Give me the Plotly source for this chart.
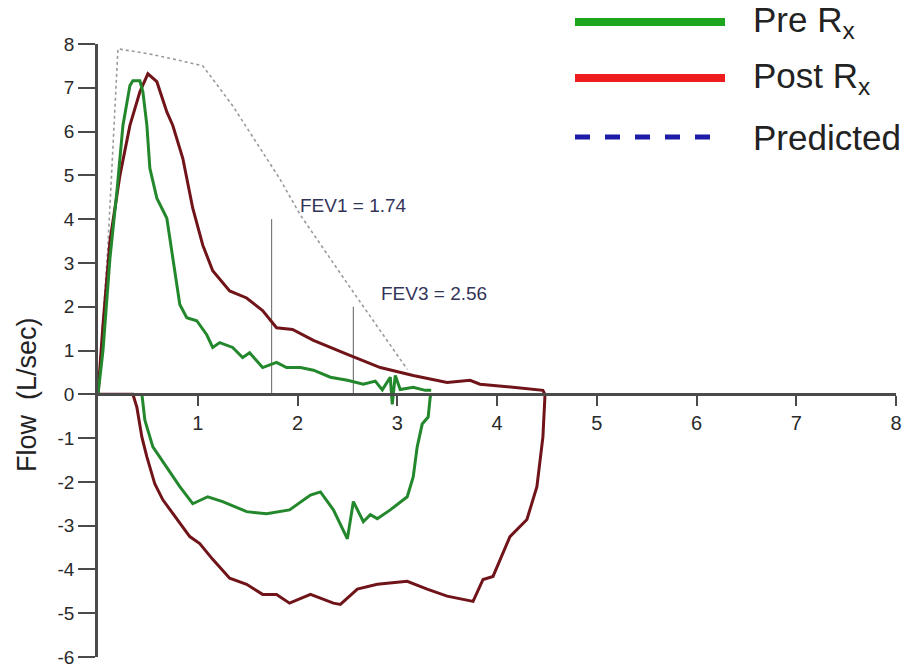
import plotly.graph_objects as go

# ---------------- data ----------------
post_exp_vol = [0, 0.05, 0.12, 0.22, 0.32, 0.42, 0.50, 0.59, 0.69, 0.75, 0.85, 0.95, 1.05, 1.15,
                1.32, 1.49, 1.65, 1.79, 1.95, 2.16, 2.50, 2.66, 2.83, 3.16, 3.50, 3.73, 3.83,
                4.16, 4.46, 4.48]
post_exp_flow = [0, 1.59, 3.5, 5.0, 6.14, 6.91, 7.32, 7.14, 6.45, 6.14, 5.39, 4.25, 3.41, 2.82,
                 2.36, 2.2, 1.91, 1.52, 1.48, 1.23, 0.91, 0.77, 0.61, 0.43, 0.27, 0.32, 0.23,
                 0.16, 0.09, 0]

post_insp_vol = [0, 0.35, 0.39, 0.44, 0.49, 0.57, 0.65, 0.79, 0.92, 1.02, 1.15, 1.32, 1.49, 1.65,
                 1.79, 1.92, 2.13, 2.36, 2.43, 2.60, 2.80, 3.10, 3.30, 3.50, 3.76, 3.86, 3.96,
                 4.13, 4.30, 4.40, 4.46, 4.48, 4.48]
post_insp_flow = [0, 0, -0.30, -0.98, -1.43, -2.05, -2.41, -2.86, -3.25, -3.41, -3.77, -4.2, -4.34,
                  -4.57, -4.57, -4.77, -4.57, -4.77, -4.8, -4.45, -4.34, -4.27, -4.45, -4.61, -4.73,
                  -4.23, -4.16, -3.25, -2.86, -2.11, -0.98, -0.07, 0]

pre_exp_vol = [0, 0.05, 0.12, 0.19, 0.25, 0.32, 0.35, 0.42, 0.45, 0.49, 0.52, 0.59, 0.69, 0.75,
               0.82, 0.89, 0.99, 1.09, 1.15, 1.22, 1.35, 1.45, 1.52, 1.65, 1.79, 1.89, 2.03,
               2.16, 2.33, 2.50, 2.66, 2.78, 2.85, 2.93, 2.95, 2.98, 3.03, 3.16, 3.28, 3.34]
pre_exp_flow = [0, 1.0, 3.11, 4.64, 6.14, 7.05, 7.16, 7.16, 6.91, 6.14, 5.16, 4.48, 4.02, 3.11,
                2.05, 1.75, 1.68, 1.36, 1.07, 1.18, 1.07, 0.84, 0.95, 0.61, 0.73, 0.61, 0.61,
                0.55, 0.39, 0.32, 0.23, 0.3, 0.1, 0.39, -0.23, 0.43, 0.11, 0.16, 0.09, 0.09]

pre_insp_vol = [0.44, 0.47, 0.55, 0.69, 0.82, 0.95, 1.10, 1.25, 1.49, 1.69, 1.92, 2.13, 2.23,
                2.36, 2.50, 2.56, 2.66, 2.73, 2.80, 2.93, 3.10, 3.16, 3.20, 3.25, 3.31, 3.33, 3.34]
pre_insp_flow = [0, -0.59, -1.2, -1.66, -2.11, -2.5, -2.34, -2.45, -2.68, -2.73, -2.64, -2.3, -2.23,
                 -2.64, -3.3, -2.45, -2.91, -2.75, -2.84, -2.64, -2.34, -1.89, -1.2, -0.68, -0.52,
                 -0.07, 0]

pred_vol = [0, 0.10, 0.20, 0.52, 0.75, 1.05, 1.15, 1.35, 1.82, 2.03, 2.53, 3.06, 3.10]
pred_flow = [0, 3.41, 7.89, 7.77, 7.66, 7.5, 7.2, 6.59, 4.93, 4.09, 2.43, 0.68, 0.57]

fev_vol = [1.74, 2.56]
fev_flow = [4.0, 2.0]
fev_text = ["FEV1 = 1.74", "FEV3 = 2.56"]
fev_text_pos = [(2.0, 4.32), (2.82, 2.3)]

x_ticks = [1, 2, 3, 4, 5, 6, 7, 8]
y_ticks = [-6, -5, -4, -3, -2, -1, 0, 1, 2, 3, 4, 5, 6, 7, 8]

legend_names = ["Pre R<sub>x</sub>", "Post R<sub>x</sub>", "Predicted"]

# ---------------- styles ----------------
PRE_C = "#23882c"
POST_C = "#701419"
PRED_C = "#9a9a9a"
AX_C = "#4a4a4a"
FONT = "Liberation Sans, Arial, sans-serif"

Y_MIN, Y_MAX = -6.0, 8.0
X_MIN, X_MAX = 0, 8.0
M_L, M_R, M_T, M_B = 98, 14, 44, 11

fig = go.Figure()

fig.add_trace(go.Scatter(x=pred_vol, y=pred_flow, mode="lines",
                         line=dict(color=PRED_C, width=1.6, dash="dot"), showlegend=False))
for xv, yv in zip(fev_vol, fev_flow):
    fig.add_trace(go.Scatter(x=[xv, xv], y=[0, yv], mode="lines",
                             line=dict(color="#7a7a7a", width=1.2), showlegend=False))
fig.add_trace(go.Scatter(x=post_exp_vol, y=post_exp_flow, mode="lines",
                         line=dict(color=POST_C, width=3), showlegend=False))
fig.add_trace(go.Scatter(x=post_insp_vol, y=post_insp_flow, mode="lines",
                         line=dict(color=POST_C, width=3), showlegend=False))
fig.add_trace(go.Scatter(x=pre_exp_vol, y=pre_exp_flow, mode="lines",
                         line=dict(color=PRE_C, width=3), showlegend=False))
fig.add_trace(go.Scatter(x=pre_insp_vol, y=pre_insp_flow, mode="lines",
                         line=dict(color=PRE_C, width=3), showlegend=False))

annotations = []
for txt, (tx, ty) in zip(fev_text, fev_text_pos):
    annotations.append(dict(x=tx, y=ty, xref="x", yref="y", text=txt, showarrow=False,
                            xanchor="left", yanchor="middle",
                            font=dict(family=FONT, size=19, color="#34345a")))

# plot-area pixel geometry
W = 910 - M_L - M_R
H = 668 - M_T - M_B
B = 668 - M_B
def px(xp):
    return (xp - M_L) / W
def py(yp):
    return (B - yp) / H

# y-axis title
annotations.append(dict(x=px(27), y=py(395), xref="paper", yref="paper",
                        text="Flow  (L/sec)", textangle=-90, showarrow=False,
                        xanchor="center", yanchor="middle",
                        font=dict(family=FONT, size=27, color="#222222")))

# manual legend
leg_y = [22, 78, 137]
leg_cols = ["#1da51d", "#ee1c1c", "#1c1ca8"]
leg_dash = ["solid", "solid", "dash"]
leg_w = [8, 8, 5]
shapes = []
for yy, c, d, w, name in zip(leg_y, leg_cols, leg_dash, leg_w, legend_names):
    shapes.append(dict(type="line", xref="paper", yref="paper",
                       x0=px(575), x1=px(725), y0=py(yy), y1=py(yy),
                       line=dict(color=c, width=w, dash=d)))
    annotations.append(dict(x=px(751), y=py(yy), xref="paper", yref="paper", text=name,
                            showarrow=False, xanchor="left", yanchor="middle",
                            font=dict(family=FONT, size=35, color="#222222")))

fig.update_layout(
    width=910, height=668,
    margin=dict(l=M_L, r=M_R, t=M_T, b=M_B, autoexpand=False),
    paper_bgcolor="white", plot_bgcolor="white",
    showlegend=False,
    shapes=shapes,
    annotations=annotations,
    xaxis=dict(range=[X_MIN, X_MAX], tickvals=x_ticks, ticktext=[str(v) for v in x_ticks],
               anchor="free", position=(0 - Y_MIN) / (Y_MAX - Y_MIN),
               showline=True, linecolor=AX_C, linewidth=2.5,
               ticks="outside", ticklen=10, tickwidth=2, tickcolor=AX_C,
               showgrid=False, zeroline=False, automargin=False,
               tickfont=dict(family=FONT, size=20, color="#2a2a2a")),
    yaxis=dict(range=[Y_MIN, Y_MAX], tickvals=y_ticks, ticktext=[str(v) for v in y_ticks],
               showline=True, linecolor=AX_C, linewidth=2.5,
               ticks="outside", ticklen=17, tickwidth=2, tickcolor=AX_C,
               showgrid=False, zeroline=False, automargin=False, ticklabeloverflow="allow",
               tickfont=dict(family=FONT, size=19, color="#2a2a2a")),
)

fig.write_html("out.html")
